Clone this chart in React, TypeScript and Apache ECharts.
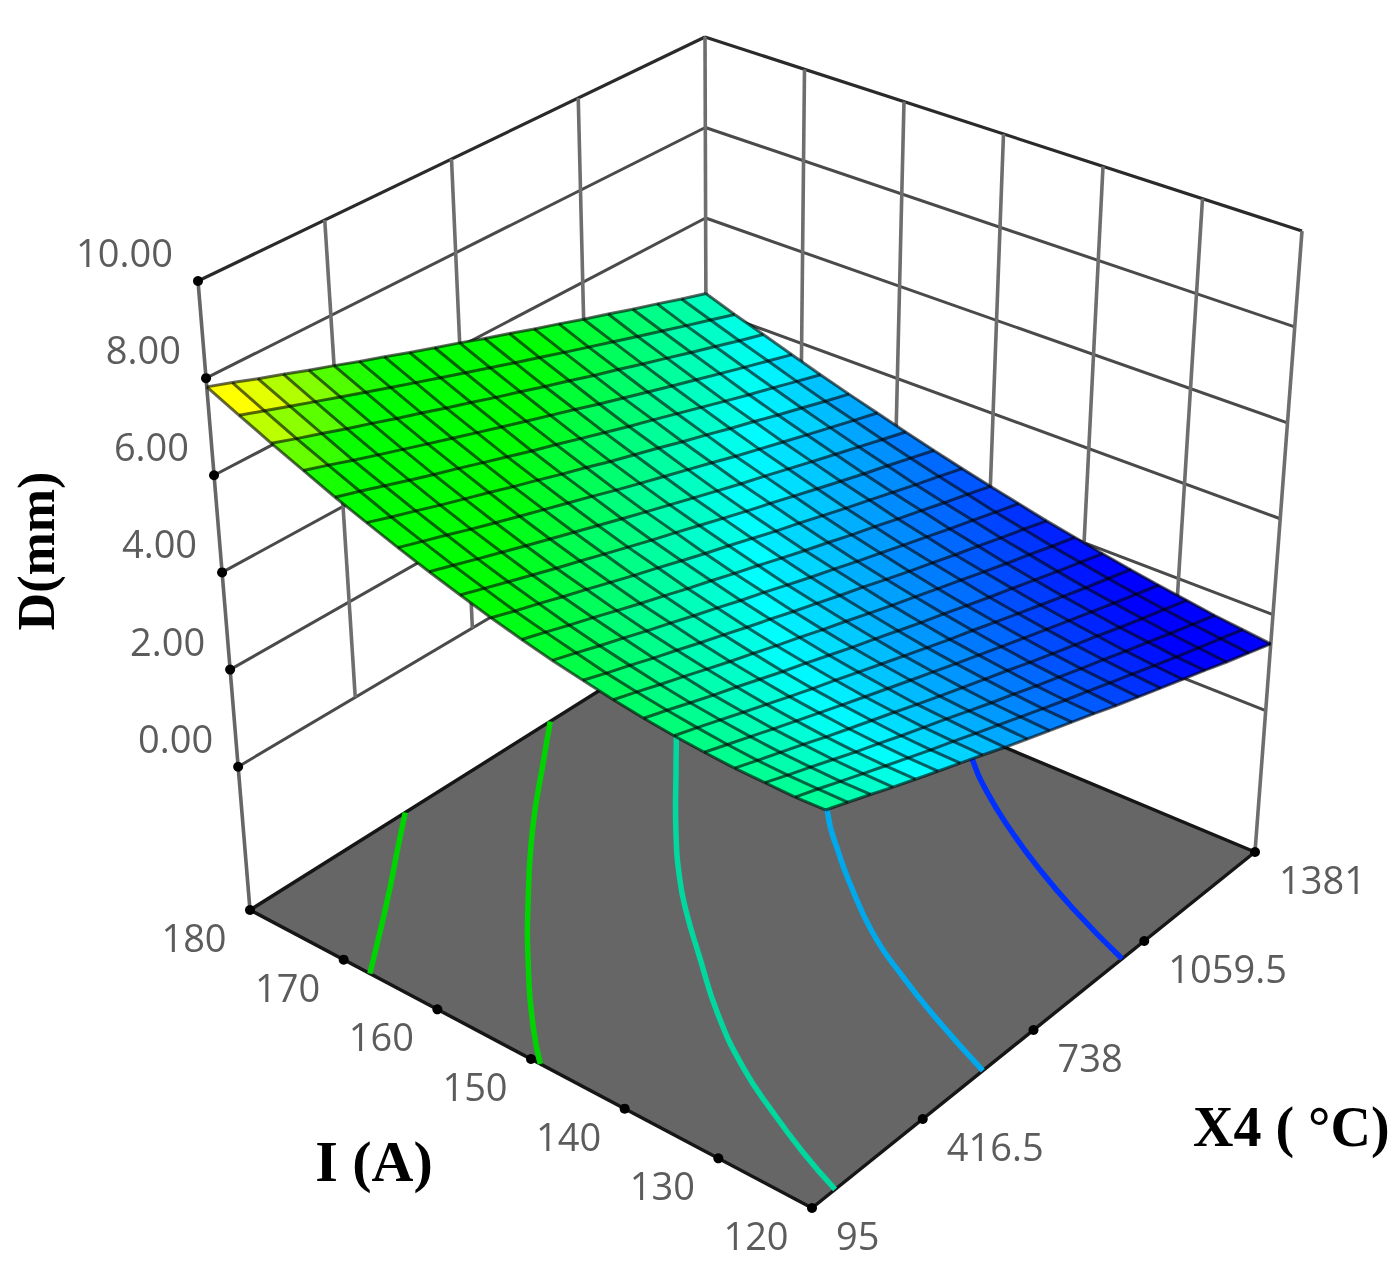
import { useEffect, useRef } from 'react';
import * as echarts from 'echarts';

// axis ticks
const I_TICKS = [180, 170, 160, 150, 140, 130, 120];
const X4_TICKS = [95, 416.5, 738, 1059.5, 1381];
const D_TICKS = [0, 2, 4, 6, 8, 10];
const X4_LABELS = ['95', '416.5', '738', '1059.5', '1381'];
const D_LABELS = ['0.00', '2.00', '4.00', '6.00', '8.00', '10.00'];

// mesh positions of the response surface
const I_GRID = [180, 177, 174, 171, 168, 165, 162, 159, 156, 153, 150, 147, 144, 141, 138, 135, 132, 129, 126, 123, 120];
const X4_GRID = [95, 159.3, 223.6, 287.9, 352.2, 416.5, 480.8, 545.1, 609.4, 673.7, 738, 802.3, 866.6, 930.9, 995.2, 1059.5, 1123.8, 1188.1, 1252.4, 1316.7, 1381];

// D (mm), one row per I_GRID value, one column per X4_GRID value
const D_SURFACE = [
  [7.82, 7.65, 7.47, 7.30, 7.12, 6.95, 6.77, 6.60, 6.42, 6.25, 6.08, 5.90, 5.73, 5.55, 5.38, 5.20, 5.03, 4.85, 4.68, 4.50, 4.33],
  [7.50, 7.33, 7.16, 6.99, 6.82, 6.65, 6.48, 6.31, 6.14, 5.97, 5.80, 5.63, 5.46, 5.29, 5.12, 4.95, 4.78, 4.61, 4.44, 4.27, 4.10],
  [7.19, 7.02, 6.86, 6.69, 6.53, 6.36, 6.20, 6.03, 5.87, 5.70, 5.54, 5.37, 5.21, 5.04, 4.88, 4.71, 4.55, 4.38, 4.22, 4.05, 3.89],
  [6.90, 6.74, 6.57, 6.41, 6.25, 6.09, 5.93, 5.77, 5.61, 5.45, 5.29, 5.13, 4.96, 4.80, 4.64, 4.48, 4.32, 4.16, 4.00, 3.84, 3.68],
  [6.62, 6.47, 6.31, 6.15, 5.99, 5.84, 5.68, 5.52, 5.36, 5.21, 5.05, 4.89, 4.73, 4.58, 4.42, 4.26, 4.10, 3.94, 3.79, 3.63, 3.47],
  [6.37, 6.21, 6.06, 5.90, 5.75, 5.60, 5.44, 5.29, 5.13, 4.98, 4.82, 4.67, 4.52, 4.36, 4.21, 4.05, 3.90, 3.74, 3.59, 3.43, 3.28],
  [6.13, 5.98, 5.83, 5.67, 5.52, 5.37, 5.22, 5.07, 4.92, 4.76, 4.61, 4.46, 4.31, 4.16, 4.00, 3.85, 3.70, 3.55, 3.40, 3.25, 3.10],
  [5.91, 5.76, 5.61, 5.46, 5.31, 5.16, 5.01, 4.86, 4.71, 4.56, 4.41, 4.26, 4.11, 3.96, 3.82, 3.67, 3.52, 3.37, 3.22, 3.07, 2.92],
  [5.71, 5.56, 5.41, 5.26, 5.11, 4.97, 4.82, 4.67, 4.52, 4.38, 4.23, 4.08, 3.93, 3.79, 3.64, 3.49, 3.34, 3.19, 3.05, 2.90, 2.75],
  [5.52, 5.37, 5.23, 5.08, 4.94, 4.79, 4.64, 4.50, 4.35, 4.20, 4.06, 3.91, 3.76, 3.62, 3.47, 3.32, 3.18, 3.03, 2.88, 2.74, 2.59],
  [5.35, 5.21, 5.06, 4.92, 4.77, 4.62, 4.48, 4.33, 4.19, 4.04, 3.90, 3.75, 3.60, 3.46, 3.31, 3.17, 3.02, 2.88, 2.73, 2.59, 2.44],
  [5.20, 5.06, 4.91, 4.77, 4.62, 4.48, 4.33, 4.19, 4.04, 3.90, 3.75, 3.60, 3.46, 3.31, 3.17, 3.02, 2.88, 2.73, 2.59, 2.44, 2.30],
  [5.07, 4.92, 4.78, 4.63, 4.49, 4.34, 4.20, 4.05, 3.91, 3.76, 3.62, 3.47, 3.33, 3.18, 3.03, 2.89, 2.74, 2.60, 2.45, 2.31, 2.16],
  [4.95, 4.81, 4.66, 4.52, 4.37, 4.22, 4.08, 3.93, 3.79, 3.64, 3.50, 3.35, 3.20, 3.06, 2.91, 2.77, 2.62, 2.47, 2.33, 2.18, 2.04],
  [4.85, 4.71, 4.56, 4.41, 4.27, 4.12, 3.97, 3.83, 3.68, 3.53, 3.39, 3.24, 3.09, 2.95, 2.80, 2.65, 2.51, 2.36, 2.21, 2.07, 1.92],
  [4.77, 4.63, 4.48, 4.33, 4.18, 4.03, 3.88, 3.74, 3.59, 3.44, 3.29, 3.14, 2.99, 2.85, 2.70, 2.55, 2.40, 2.25, 2.10, 1.96, 1.81],
  [4.71, 4.56, 4.41, 4.26, 4.11, 3.96, 3.81, 3.66, 3.51, 3.36, 3.21, 3.06, 2.91, 2.76, 2.61, 2.46, 2.31, 2.16, 2.01, 1.86, 1.71],
  [4.66, 4.51, 4.36, 4.21, 4.05, 3.90, 3.75, 3.60, 3.44, 3.29, 3.14, 2.99, 2.84, 2.68, 2.53, 2.38, 2.23, 2.07, 1.92, 1.77, 1.62],
  [4.64, 4.48, 4.33, 4.17, 4.01, 3.86, 3.70, 3.55, 3.40, 3.24, 3.08, 2.93, 2.77, 2.62, 2.46, 2.31, 2.15, 2.00, 1.84, 1.69, 1.53],
  [4.62, 4.47, 4.31, 4.15, 3.99, 3.83, 3.67, 3.52, 3.36, 3.20, 3.04, 2.88, 2.72, 2.57, 2.41, 2.25, 2.09, 1.93, 1.77, 1.62, 1.46],
  [4.63, 4.47, 4.31, 4.14, 3.98, 3.82, 3.66, 3.50, 3.33, 3.17, 3.01, 2.85, 2.69, 2.52, 2.36, 2.20, 2.04, 1.88, 1.71, 1.55, 1.39],
];

// contour lines on the floor, [I, X4]
const CONTOUR_1 = [[180, 532], [177, 432], [174, 333], [171, 230], [167.2, 95]];
const CONTOUR_2 = [[180, 940], [176.6, 833], [170.8, 651], [164.3, 467], [158.2, 306], [152.6, 171], [149, 95]];
const CONTOUR_3 = [[180, 1337], [175.8, 1188], [170.8, 1057], [167.5, 970], [161.2, 805], [156.6, 695], [153.2, 624], [148.4, 534], [142.3, 423], [136, 328], [130.3, 261], [125.1, 207], [120, 162]];
const CONTOUR_4 = [[166.8, 1381], [160.2, 1201], [153.2, 1027], [148.3, 933], [145.7, 888], [139.3, 788], [133.4, 718], [127.4, 657], [120, 591]];
const CONTOUR_5 = [[151.8, 1381], [148.5, 1317], [144.3, 1250], [139.3, 1184], [134.1, 1124], [127.7, 1060], [120, 995]];
const CONTOURS = [CONTOUR_1, CONTOUR_2, CONTOUR_3, CONTOUR_4, CONTOUR_5];
const CONTOUR_COLORS = ['#00d400', '#00d400', '#00d8a0', '#00a8ec', '#0030ff'];

const I_MIN = 120;
const I_MAX = 180;
const X4_MIN = 95;
const X4_MAX = 1381;
const D_FLOOR = -2.95;
const D_TOP = 10;

// the box as seen in the picture, on the pixel-sized hidden axes
const FLOOR_BOX = { left: [250, 910], front: [812, 1208], right: [1255, 852], back: [707, 623] };
const TOP_BOX = { left: [198, 281], front: [835, 528], right: [1302, 231], back: [705, 37] };

function boxPoint(box: any, u: number, v: number) {
  return [0, 1].map(k =>
    (1 - u) * (1 - v) * box.left[k] + u * (1 - v) * box.front[k] + u * v * box.right[k] + (1 - u) * v * box.back[k],
  );
}

function project(i: number, x4: number, d: number) {
  const u = (I_MAX - i) / (I_MAX - I_MIN);
  const v = (x4 - X4_MIN) / (X4_MAX - X4_MIN);
  const t = (d - D_FLOOR) / (D_TOP - D_FLOOR);
  const a = boxPoint(FLOOR_BOX, u, v);
  const b = boxPoint(TOP_BOX, u, v);
  return [a[0] + (b[0] - a[0]) * t, a[1] + (b[1] - a[1]) * t];
}

// blue - cyan - green - yellow
const COLOR_STOPS: [number, number[]][] = [
  [1.9, [0, 0, 255]],
  [3.35, [0, 180, 255]],
  [3.9, [0, 255, 255]],
  [5.5, [0, 255, 0]],
  [6.6, [0, 255, 0]],
  [7.5, [255, 255, 0]],
];

function surfaceColor(d: number) {
  if (d <= COLOR_STOPS[0][0]) return 'rgb(0,0,255)';
  for (let k = 1; k < COLOR_STOPS.length; k++) {
    const [d1, c1] = COLOR_STOPS[k];
    const [d0, c0] = COLOR_STOPS[k - 1];
    if (d <= d1) {
      const f = (d - d0) / (d1 - d0);
      return `rgb(${c0.map((c, n) => Math.round(c + (c1[n] - c) * f)).join(',')})`;
    }
  }
  return 'rgb(255,255,0)';
}

type P3 = [number, number, number];
type Segment = { from: P3; to: P3; color: string; width: number };

function wallSegments(): Segment[] {
  const out: Segment[] = [];
  // left wall (I = 180), right wall (X4 = 1381)
  D_TICKS.forEach(d => {
    const color = d === 10 ? '#2a2a2a' : '#4a4a4a';
    const width = d === 10 ? 3.2 : 3;
    out.push({ from: [I_MAX, X4_MIN, d], to: [I_MAX, X4_MAX, d], color, width });
    out.push({ from: [I_MAX, X4_MAX, d], to: [I_MIN, X4_MAX, d], color, width });
  });
  X4_TICKS.slice(1).forEach(x => {
    out.push({ from: [I_MAX, x, 0], to: [I_MAX, x, D_TOP], color: '#6e6e6e', width: 3.6 });
  });
  I_TICKS.slice(1, -1).forEach(i => {
    out.push({ from: [i, X4_MAX, 0], to: [i, X4_MAX, D_TOP], color: '#6e6e6e', width: 3.6 });
  });
  out.push({ from: [I_MAX, X4_MIN, D_FLOOR], to: [I_MAX, X4_MIN, D_TOP], color: '#666', width: 3.6 });
  out.push({ from: [I_MIN, X4_MAX, D_FLOOR], to: [I_MIN, X4_MAX, D_TOP], color: '#6e6e6e', width: 3.6 });
  return out;
}

const FLOOR_EDGES: [P3, P3][] = [
  [[I_MAX, X4_MIN, D_FLOOR], [I_MIN, X4_MIN, D_FLOOR]],
  [[I_MIN, X4_MIN, D_FLOOR], [I_MIN, X4_MAX, D_FLOOR]],
  [[I_MIN, X4_MAX, D_FLOOR], [I_MAX, X4_MAX, D_FLOOR]],
  [[I_MAX, X4_MAX, D_FLOOR], [I_MAX, X4_MIN, D_FLOOR]],
];

function tickDots(): P3[] {
  return [
    ...D_TICKS.map(d => [I_MAX, X4_MIN, d] as P3),
    ...I_TICKS.map(i => [i, X4_MIN, D_FLOOR] as P3),
    ...X4_TICKS.slice(1).map(x => [I_MIN, x, D_FLOOR] as P3),
  ];
}

type Label = { at: P3; text: string; dx: number; dy: number; align: string };

function tickLabels(): Label[] {
  return [
    ...D_TICKS.map((d, n) => ({ at: [I_MAX, X4_MIN, d] as P3, text: D_LABELS[n], dx: -25, dy: -29, align: 'right' })),
    ...I_TICKS.map(i => ({ at: [i, X4_MIN, D_FLOOR] as P3, text: String(i), dx: -56, dy: 27, align: 'center' })),
    ...X4_TICKS.map((x, n) => ({ at: [I_MIN, x, D_FLOOR] as P3, text: X4_LABELS[n], dx: 24, dy: 27, align: 'left' })),
  ];
}

function buildOption(): echarts.EChartsOption {
  const walls = wallSegments();
  const dots = tickDots();
  const labels = tickLabels();

  const toPix = (api: any, p: P3) => api.coord(project(p[0], p[1], p[2]));

  const layer = (z: number, count: number, renderItem: any): any => ({
    type: 'custom',
    coordinateSystem: 'cartesian2d',
    silent: true,
    clip: false,
    z,
    data: Array.from({ length: count }, (_, n) => [n, n]),
    renderItem,
  });

  const cells: [number, number][] = [];
  for (let r = 0; r < I_GRID.length - 1; r++) {
    for (let c = 0; c < X4_GRID.length - 1; c++) cells.push([r, c]);
  }
  const meshLines: P3[][] = [
    ...I_GRID.map((i, r) => X4_GRID.map((x, c) => [i, x, D_SURFACE[r][c]] as P3)),
    ...X4_GRID.map((x, c) => I_GRID.map((i, r) => [i, x, D_SURFACE[r][c]] as P3)),
  ];

  return {
    animation: false,
    backgroundColor: '#fff',
    grid: { left: 0, right: 0, top: 0, bottom: 0 },
    xAxis: { type: 'value', min: 0, max: 1400, show: false },
    yAxis: { type: 'value', min: 0, max: 1275, inverse: true, show: false },
    series: [
      layer(1, walls.length, (_: any, api: any) => {
        const s = walls[api.value(0)];
        const a = toPix(api, s.from);
        const b = toPix(api, s.to);
        return {
          type: 'line',
          shape: { x1: a[0], y1: a[1], x2: b[0], y2: b[1] },
          style: { stroke: s.color, lineWidth: s.width },
        };
      }),
      layer(2, 1, (_: any, api: any) => ({
        type: 'polygon',
        shape: {
          points: FLOOR_EDGES.map(e => toPix(api, e[0])),
        },
        style: { fill: '#666666' },
      })),
      layer(3, FLOOR_EDGES.length, (_: any, api: any) => {
        const e = FLOOR_EDGES[api.value(0)];
        const a = toPix(api, e[0]);
        const b = toPix(api, e[1]);
        return {
          type: 'line',
          shape: { x1: a[0], y1: a[1], x2: b[0], y2: b[1] },
          style: { stroke: '#161616', lineWidth: 3.4 },
        };
      }),
      layer(4, CONTOURS.length, (_: any, api: any) => {
        const n = api.value(0);
        return {
          type: 'polyline',
          shape: {
            points: CONTOURS[n].map(p => toPix(api, [p[0], p[1], D_FLOOR])),
            smooth: 0.5,
          },
          style: { stroke: CONTOUR_COLORS[n], fill: 'none', lineWidth: 5.5 },
        };
      }),
      layer(5, dots.length, (_: any, api: any) => {
        const p = toPix(api, dots[api.value(0)]);
        return {
          type: 'circle',
          shape: { cx: p[0], cy: p[1], r: 5 },
          style: { fill: '#000' },
        };
      }),
      layer(6, cells.length, (_: any, api: any) => {
        const [r, c] = cells[api.value(0)];
        const corners: [number, number][] = [[r, c], [r + 1, c], [r + 1, c + 1], [r, c + 1]];
        const avg = corners.reduce((sum, q) => sum + D_SURFACE[q[0]][q[1]], 0) / 4;
        const color = surfaceColor(avg);
        return {
          type: 'polygon',
          shape: { points: corners.map(q => toPix(api, [I_GRID[q[0]], X4_GRID[q[1]], D_SURFACE[q[0]][q[1]]])) },
          style: { fill: color, stroke: color, lineWidth: 0.5 },
        };
      }),
      layer(7, meshLines.length, (_: any, api: any) => ({
        type: 'polyline',
        shape: { points: meshLines[api.value(0)].map(p => toPix(api, p)) },
        style: { stroke: 'rgba(0,0,0,0.6)', fill: 'none', lineWidth: 3 },
      })),
      layer(8, labels.length, (_: any, api: any) => {
        const l = labels[api.value(0)];
        const p = toPix(api, l.at);
        return {
          type: 'text',
          x: p[0] + l.dx,
          y: p[1] + l.dy,
          style: {
            text: l.text,
            fill: '#5c5c5c',
            font: '38px "Open Sans"',
            align: l.align,
            verticalAlign: 'middle',
          },
        };
      }),
    ],
    graphic: [
      {
        type: 'text',
        x: 36,
        y: 551,
        rotation: Math.PI / 2,
        style: {
          text: 'D(mm)',
          fill: '#000',
          font: 'bold 52px "Liberation Serif"',
          align: 'center',
          verticalAlign: 'middle',
        },
      },
      {
        type: 'text',
        x: 374,
        y: 1161,
        style: {
          text: 'I (A)',
          fill: '#000',
          font: 'bold 58px "Liberation Serif"',
          align: 'center',
          verticalAlign: 'middle',
        },
      },
      {
        type: 'text',
        x: 1193,
        y: 1127,
        style: {
          text: 'X4 ( °C)',
          fill: '#000',
          font: 'bold 56px "Liberation Serif"',
          align: 'left',
          verticalAlign: 'middle',
        },
      },
    ],
  };
}

export default function App() {
  const chartRef = useRef<HTMLDivElement>(null);

  useEffect(() => {
    if (!chartRef.current) return;
    document.body.style.margin = '0';
    const chart = echarts.init(chartRef.current, undefined, { renderer: 'svg' });
    chart.setOption(buildOption());
    return () => {
      chart.dispose();
    };
  }, []);

  // the reference is a soft, upscaled image
  return <div ref={chartRef} style={{ width: 1400, height: 1275, filter: 'blur(0.7px)' }} />;
}
